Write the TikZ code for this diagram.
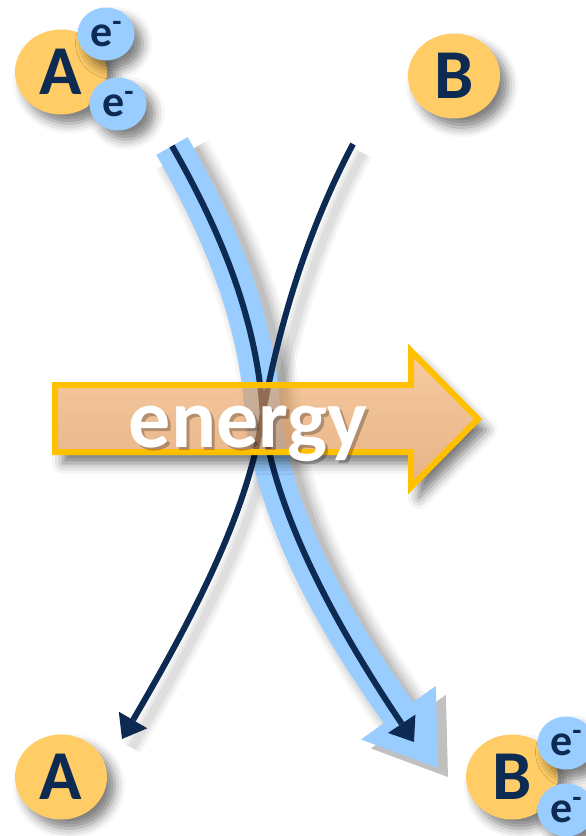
\documentclass[tikz,border=0pt]{standalone}
\usepackage{fontspec}
\setmainfont{Carlito}
\usetikzlibrary{arrows.meta,shapes.geometric,shadows.blur}
\definecolor{navy}{RGB}{12,42,82}
\definecolor{gold}{RGB}{255,204,102}
\definecolor{lblue}{RGB}{153,204,255}
\definecolor{arrowline}{RGB}{255,192,0}
\definecolor{orangetop}{RGB}{242,168,96}
\definecolor{orangebot}{RGB}{214,128,56}
\tikzset{
  softshadow/.style={blur shadow={shadow xshift=8pt,shadow yshift=-9pt,shadow blur radius=10pt,shadow opacity=50}},
  atom/.style={ellipse,fill=gold,minimum width=92pt,minimum height=85pt,inner sep=0pt,text=navy,font=\bfseries\fontsize{70}{70}\selectfont,softshadow},
  elec/.style={ellipse,fill=lblue,minimum width=57pt,minimum height=53pt,inner sep=0pt,text=navy,font=\bfseries\fontsize{44}{44}\selectfont,softshadow},
  bigtip/.tip={Triangle[length=68pt,width=92pt,line width=0pt]},
  smalltip/.tip={Triangle[length=22pt,width=33pt,line width=0pt]},
  band/.style={draw=lblue,line width=36pt},
  wire/.style={draw=navy,line width=6pt},
  energyfont/.style={font=\bfseries\fontsize{84}{84}\selectfont},
}
\newcommand{\electxt}{e\raisebox{15pt}{\fontsize{30}{30}\selectfont -}}
\begin{document}
\begin{tikzpicture}[x=1pt,y=-1pt]
\useasboundingbox (0,0) rectangle (586,836);
\clip (0,0) rectangle (586,836);
% path points
\coordinate (p0) at (172,146);
\coordinate (p1) at (263,418);
\coordinate (p2) at (414,742);
\coordinate (pb) at (438,768);
\coordinate (q0) at (353,144);
\coordinate (q1) at (262,418);
\coordinate (q2) at (122,739);
% shadows of the curves
\begin{scope}[transform canvas={xshift=10pt,yshift=-9pt}]
  \foreach \w/\o in {60pt/0.035,54pt/0.045,48pt/0.055,42pt/0.065,36pt/0.075}{
    \draw[black,opacity=\o,line width=\w,-bigtip] (p0) .. controls (220,230) and (258,320) .. (p1) .. controls (277,530) and (350,645) .. (pb);
  }
  \foreach \w/\o in {20pt/0.035,14pt/0.045,8pt/0.055}{
    \draw[black,opacity=\o,line width=\w] (q0) .. controls (305,235) and (278,330) .. (q1) .. controls (247,518) and (186,629) .. (q2);
  }
\end{scope}
% blue band A -> B
\draw[band,-bigtip] (p0) .. controls (220,230) and (258,320) .. (p1) .. controls (277,530) and (350,645) .. (pb);
% dark lines
\draw[wire,-smalltip] (p0) .. controls (220,230) and (258,320) .. (p1) .. controls (276,518) and (340,632) .. (p2);
\draw[wire,-smalltip] (q0) .. controls (305,235) and (278,330) .. (q1) .. controls (247,518) and (186,629) .. (q2);
% atoms
\node[atom] (A1) at (61,72) {A};
\node[elec] (e1) at (106,34) {\electxt};
\node[elec] (e2) at (118,104) {\electxt};
\node[atom] (B1) at (454,76) {B};
\node[atom] (A2) at (61,777) {A};
\node[atom] (B2) at (512,777) {B};
\node[elec] (e3) at (566,743) {\electxt};
\node[elec] (e4) at (566,810) {\electxt};
% energy arrow
\coordinate (g1) at (55,385);
\coordinate (g2) at (411,385);
\coordinate (g3) at (411,351);
\coordinate (g4) at (478,419);
\coordinate (g5) at (411,487);
\coordinate (g6) at (411,452);
\coordinate (g7) at (55,452);
\begin{scope}[even odd rule]
  \clip (-20,-20) rectangle (606,856) (g1) -- (g2) -- (g3) -- (g4) -- (g5) -- (g6) -- (g7) -- cycle;
  \path[blur shadow={shadow xshift=8pt,shadow yshift=-11pt,shadow blur radius=11pt,shadow opacity=55}] (g1) -- (g2) -- (g3) -- (g4) -- (g5) -- (g6) -- (g7) -- cycle;
\end{scope}
\path[draw=arrowline,line width=6pt,line join=miter,top color=orangetop,bottom color=orangebot,fill opacity=0.6]
  (g1) -- (g2) -- (g3) -- (g4) -- (g5) -- (g6) -- (g7) -- cycle;
\node[energyfont,anchor=base,text=black,text opacity=0.25] (gs) at (251,450) {energy};
\node[energyfont,anchor=base,text=white] (gt) at (248,447) {energy};
\end{tikzpicture}
\end{document}
